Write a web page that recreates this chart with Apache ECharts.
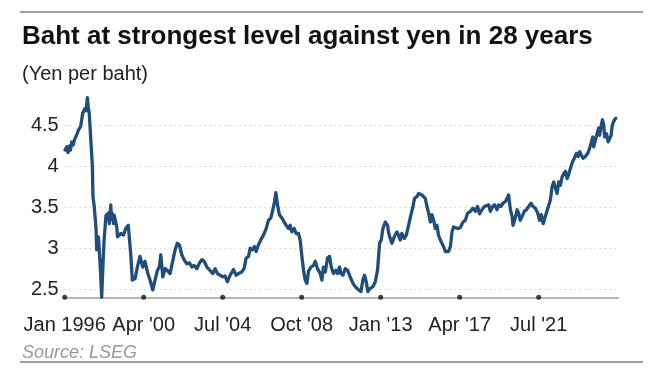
<!DOCTYPE html>
<html><head><meta charset="utf-8">
<script src="https://cdn.jsdelivr.net/npm/echarts@6/dist/echarts.min.js"></script>
<style>html,body{margin:0;padding:0;background:#fff}#c{width:667px;height:374px}</style>
</head><body><div id="c"></div>
<script>
// decimal years
const dates = [
1996.02,1996.11,1996.18,1996.26,1996.31,1996.38,1996.45,1996.55,1996.64,1996.73,
1996.86,1996.97,1997.09,1997.15,1997.22,1997.27,1997.32,1997.42,1997.49,1997.52,
1997.59,1997.69,1997.72,1997.81,1997.86,1997.93,1997.99,1998.06,1998.12,1998.22,
1998.35,1998.40,1998.48,1998.52,1998.58,1998.63,1998.67,1998.80,1998.84,1998.89,
1999.02,1999.16,1999.28,1999.42,1999.55,1999.64,1999.79,1999.91,2000.05,2000.20,
2000.32,2000.45,2000.59,2000.74,2000.86,2000.99,2001.09,2001.17,2001.28,2001.40,
2001.52,2001.67,2001.79,2001.94,2002.06,2002.17,2002.30,2002.42,2002.57,2002.71,
2002.84,2002.96,2003.11,2003.25,2003.38,2003.50,2003.65,2003.82,2003.97,2004.09,
2004.22,2004.36,2004.51,2004.63,2004.75,2004.90,2005.08,2005.22,2005.35,2005.53,
2005.65,2005.76,2005.89,2005.98,2006.10,2006.21,2006.30,2006.42,2006.55,2006.69,
2006.84,2006.96,2007.09,2007.20,2007.29,2007.36,2007.45,2007.55,2007.68,2007.81,
2007.92,2008.04,2008.13,2008.22,2008.35,2008.45,2008.58,2008.67,2008.76,2008.85,
2008.94,2009.03,2009.12,2009.25,2009.39,2009.48,2009.60,2009.75,2009.84,2009.92,
2010.02,2010.14,2010.25,2010.34,2010.46,2010.59,2010.68,2010.79,2010.86,2010.97,
2011.09,2011.22,2011.36,2011.51,2011.63,2011.72,2011.81,2011.94,2012.04,2012.13,
2012.22,2012.31,2012.44,2012.58,2012.71,2012.83,2012.94,2013.03,2013.12,2013.25,
2013.37,2013.42,2013.51,2013.61,2013.73,2013.88,2013.96,2014.05,2014.14,2014.27,
2014.38,2014.50,2014.63,2014.74,2014.82,2014.95,2015.04,2015.13,2015.22,2015.31,
2015.40,2015.49,2015.58,2015.67,2015.76,2015.85,2015.94,2016.03,2016.11,2016.21,
2016.30,2016.38,2016.48,2016.57,2016.65,2016.75,2016.84,2016.92,2017.01,2017.14,
2017.28,2017.43,2017.55,2017.68,2017.82,2017.97,2018.09,2018.21,2018.32,2018.45,
2018.58,2018.68,2018.81,2018.90,2019.02,2019.13,2019.26,2019.35,2019.47,2019.58,
2019.71,2019.80,2019.88,2019.98,2020.07,2020.12,2020.24,2020.34,2020.42,2020.51,
2020.61,2020.73,2020.84,2020.96,2021.09,2021.20,2021.32,2021.45,2021.55,2021.64,
2021.74,2021.86,2021.98,2022.13,2022.22,2022.31,2022.40,2022.49,2022.58,2022.67,
2022.76,2022.85,2022.94,2023.03,2023.11,2023.24,2023.33,2023.42,2023.53,2023.62,
2023.71,2023.78,2023.89,2024.01,2024.14,2024.24,2024.34,2024.41,2024.46,2024.55,
2024.64,2024.73,2024.78,2024.86,2024.93,2025.00,2025.05,2025.15,2025.24,2025.31,
2025.40,2025.45,2025.50,2025.58,2025.65
];
const yenPerBaht = [
4.20,4.24,4.17,4.25,4.20,4.30,4.26,4.34,4.38,4.44,
4.49,4.65,4.71,4.68,4.84,4.72,4.65,4.63,4.00,3.63,
3.51,3.22,2.98,3.14,2.98,2.70,2.40,2.80,3.10,3.40,
3.43,3.30,3.53,3.35,3.42,3.30,3.40,3.26,3.14,3.12,
3.18,3.16,3.24,3.28,2.94,2.61,2.63,2.77,2.90,2.77,
2.84,2.71,2.61,2.49,2.61,2.73,2.77,2.92,2.65,2.75,
2.73,2.69,2.82,2.98,3.06,3.04,2.92,2.86,2.81,2.82,
2.77,2.79,2.75,2.82,2.86,2.84,2.77,2.73,2.69,2.75,
2.69,2.67,2.65,2.66,2.59,2.67,2.74,2.67,2.69,2.71,
2.75,2.88,2.90,3.00,2.98,3.02,2.96,3.04,3.10,3.16,
3.24,3.34,3.37,3.47,3.57,3.68,3.53,3.41,3.37,3.32,
3.28,3.24,3.28,3.20,3.24,3.18,3.18,3.10,2.90,2.73,
2.61,2.57,2.72,2.77,2.79,2.84,2.75,2.69,2.61,2.77,
2.71,2.88,2.90,2.77,2.69,2.73,2.69,2.77,2.69,2.67,
2.75,2.73,2.65,2.57,2.53,2.55,2.49,2.47,2.61,2.67,
2.59,2.47,2.51,2.53,2.59,2.73,3.06,3.10,3.24,3.32,
3.28,3.20,3.12,3.06,3.14,3.20,3.16,3.10,3.18,3.12,
3.16,3.28,3.41,3.51,3.61,3.63,3.67,3.67,3.65,3.67,
3.61,3.51,3.43,3.32,3.41,3.34,3.24,3.28,3.16,3.10,
3.08,3.02,2.96,2.94,2.96,3.02,3.20,3.26,3.24,3.24,
3.25,3.32,3.34,3.43,3.45,3.49,3.45,3.51,3.42,3.47,
3.51,3.49,3.53,3.45,3.51,3.53,3.47,3.53,3.51,3.55,
3.57,3.61,3.65,3.47,3.39,3.28,3.37,3.47,3.43,3.34,
3.39,3.45,3.47,3.51,3.55,3.51,3.49,3.43,3.34,3.41,
3.30,3.39,3.48,3.59,3.75,3.81,3.79,3.67,3.81,3.77,
3.87,3.91,3.94,3.85,3.90,4.00,4.06,4.10,4.16,4.12,
4.18,4.14,4.10,4.12,4.16,4.22,4.30,4.36,4.24,4.32,
4.40,4.47,4.38,4.49,4.57,4.51,4.36,4.40,4.30,4.28,
4.38,4.49,4.53,4.57,4.59
];
const xTickYears = [1996, 2000.25, 2004.5, 2008.75, 2013, 2017.25, 2021.5];
const xTickLabels = ['Jan 1996', "Apr '00", "Jul '04", "Oct '08", "Jan '13", "Apr '17", "Jul '21"];
const yTicks = [2.5, 3, 3.5, 4, 4.5];
const yTickLabels = ['2.5', '3', '3.5', '4', '4.5'];

const FONT = "'Liberation Sans', Arial, sans-serif";
const Y_MIN = 2.4, Y_MAX = 4.9, X_MIN = 1996, X_MAX = 2025.79;

const chart = echarts.init(document.getElementById('c'), null, {renderer: 'canvas'});
chart.setOption({
  animation: false,
  backgroundColor: '#fff',
  grid: {left: 64.7, right: 48.6, top: 92.8, bottom: 76.7},
  graphic: [
    {type: 'line', shape: {x1: 20, y1: 12, x2: 643, y2: 12}, style: {stroke: '#808080', lineWidth: 1.5}},
    {type: 'text', left: 22, top: 24, style: {text: 'Baht at strongest level against yen in 28 years', font: "bold 26px " + FONT, fill: '#111'}},
    {type: 'text', left: 22, top: 64, style: {text: '(Yen per baht)', font: "20px " + FONT, fill: '#222'}},
    {type: 'text', left: 22, top: 344, style: {text: 'Source: LSEG', font: "italic 18px " + FONT, fill: '#999'}},
    {type: 'line', shape: {x1: 20, y1: 362, x2: 643, y2: 362}, style: {stroke: '#808080', lineWidth: 1.5}}
  ],
  xAxis: {
    type: 'value', min: X_MIN, max: X_MAX,
    axisLine: {show: true, lineStyle: {color: '#b5b5b5', width: 2}},
    axisTick: {show: false, customValues: xTickYears},
    axisLabel: {
      customValues: xTickYears, fontSize: 20, color: '#222', margin: 18, fontFamily: FONT,
      formatter: v => { const i = xTickYears.findIndex(t => Math.abs(t - v) < 1e-6); return i >= 0 ? xTickLabels[i] : ''; }
    },
    splitLine: {show: false}
  },
  yAxis: {
    type: 'value', min: Y_MIN, max: Y_MAX,
    axisLine: {show: false},
    axisTick: {show: false, customValues: yTicks},
    axisLabel: {
      customValues: yTicks, fontSize: 20, color: '#222', margin: 6, fontFamily: FONT,
      formatter: v => { const i = yTicks.findIndex(t => Math.abs(t - v) < 1e-6); return i >= 0 ? yTickLabels[i] : ''; }
    },
    splitLine: {show: true, lineStyle: {color: '#bdbdbd', width: 1, type: [1, 4]}}
  },
  series: [
    {
      type: 'line', data: dates.map((d, i) => [d, yenPerBaht[i]]),
      showSymbol: false, clip: false,
      lineStyle: {color: '#1f4e7a', width: 3.3, join: 'round', cap: 'round'}
    },
    {
      type: 'scatter', data: xTickYears.map(t => [t, Y_MIN]),
      symbol: 'circle', symbolSize: 5, itemStyle: {color: '#111'}, silent: true, clip: false, z: 5
    }
  ]
});
</script></body></html>
